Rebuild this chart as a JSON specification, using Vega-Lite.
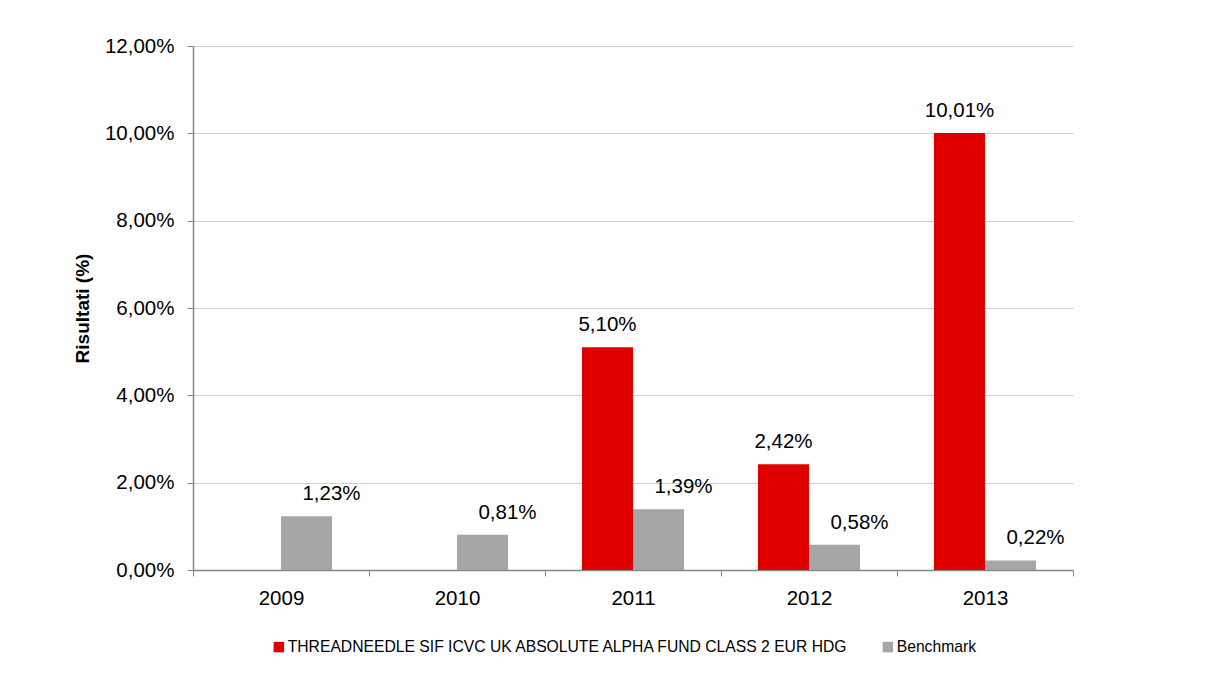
{
  "$schema": "https://vega.github.io/schema/vega-lite/v6.json",
  "width": 880,
  "height": 524,
  "autosize": {"type": "none"},
  "padding": {"left": 193, "top": 46, "right": 151, "bottom": 109},
  "background": "white",
  "config": {
    "locale": {"number": {"decimal": ",", "thousands": ".", "grouping": [3], "currency": ["", " €"]}},
    "font": "Liberation Sans",
    "view": {"stroke": null},
    "axis": {"labelFont": "Liberation Sans", "titleFont": "Liberation Sans", "labelColor": "#000000", "titleColor": "#000000"}
  },
  "data": {
    "values": [
      {"year": "2009", "series": "Benchmark", "value": 0.0123},
      {"year": "2010", "series": "Benchmark", "value": 0.0081},
      {"year": "2011", "series": "THREADNEEDLE SIF ICVC UK ABSOLUTE ALPHA FUND CLASS 2 EUR HDG", "value": 0.051},
      {"year": "2011", "series": "Benchmark", "value": 0.0139},
      {"year": "2012", "series": "THREADNEEDLE SIF ICVC UK ABSOLUTE ALPHA FUND CLASS 2 EUR HDG", "value": 0.0242},
      {"year": "2012", "series": "Benchmark", "value": 0.0058},
      {"year": "2013", "series": "THREADNEEDLE SIF ICVC UK ABSOLUTE ALPHA FUND CLASS 2 EUR HDG", "value": 0.1001},
      {"year": "2013", "series": "Benchmark", "value": 0.0022}
    ]
  },
  "encoding": {
    "x": {
      "field": "year", "type": "nominal", "title": null,
      "scale": {"paddingInner": 0, "paddingOuter": 0},
      "axis": {
        "labelAngle": 0, "labelFontSize": 20.5, "labelPadding": 12,
        "tickBand": "extent", "tickSize": 6, "tickColor": "#868686",
        "domainColor": "#868686", "domainWidth": 1.5, "grid": false
      }
    },
    "xOffset": {
      "field": "series", "type": "nominal",
      "scale": {"domain": ["THREADNEEDLE SIF ICVC UK ABSOLUTE ALPHA FUND CLASS 2 EUR HDG", "Benchmark"], "paddingInner": 0, "paddingOuter": 0.725}
    },
    "y": {
      "field": "value", "type": "quantitative",
      "scale": {"domain": [0, 0.12], "nice": false},
      "axis": {
        "title": "Risultati (%)", "titleFontSize": 19, "titleFontWeight": "bold",
        "titleX": -111, "titleY": 262, "titleAngle": -90, "titleBaseline": "middle", "titleAlign": "center",
        "format": ".2%", "values": [0, 0.02, 0.04, 0.06, 0.08, 0.1, 0.12],
        "labelFontSize": 20.5, "labelPadding": 13, "tickSize": 6, "tickColor": "#868686",
        "domainColor": "#868686", "domainWidth": 1.5,
        "gridColor": "#D0D0D0", "gridWidth": 1.2
      }
    }
  },
  "layer": [
    {
      "mark": {"type": "bar"},
      "encoding": {
        "color": {
          "field": "series", "type": "nominal",
          "scale": {"domain": ["THREADNEEDLE SIF ICVC UK ABSOLUTE ALPHA FUND CLASS 2 EUR HDG", "Benchmark"], "range": ["#E00000", "#A6A6A6"]},
          "legend": {
            "title": null, "orient": "none", "direction": "horizontal",
            "legendX": 78, "legendY": 593,
            "symbolType": "square", "symbolSize": 110, "symbolStrokeWidth": 0,
            "labelFontSize": 15.7, "labelFont": "Liberation Sans", "labelColor": "#000000",
            "labelOffset": 1, "columnPadding": 30, "labelLimit": 1000
          }
        }
      }
    },
    {
      "transform": [{"filter": "datum.series !== 'Benchmark'"}],
      "mark": {"type": "text", "baseline": "alphabetic", "dy": -16, "fontSize": 20.5, "font": "Liberation Sans", "color": "#000000"},
      "encoding": {"text": {"field": "value", "type": "quantitative", "format": ".2%"}}
    },
    {
      "transform": [{"filter": "datum.series === 'Benchmark'"}],
      "mark": {"type": "text", "baseline": "alphabetic", "dy": -16, "dx": 25, "fontSize": 20.5, "font": "Liberation Sans", "color": "#000000"},
      "encoding": {"text": {"field": "value", "type": "quantitative", "format": ".2%"}}
    }
  ]
}
